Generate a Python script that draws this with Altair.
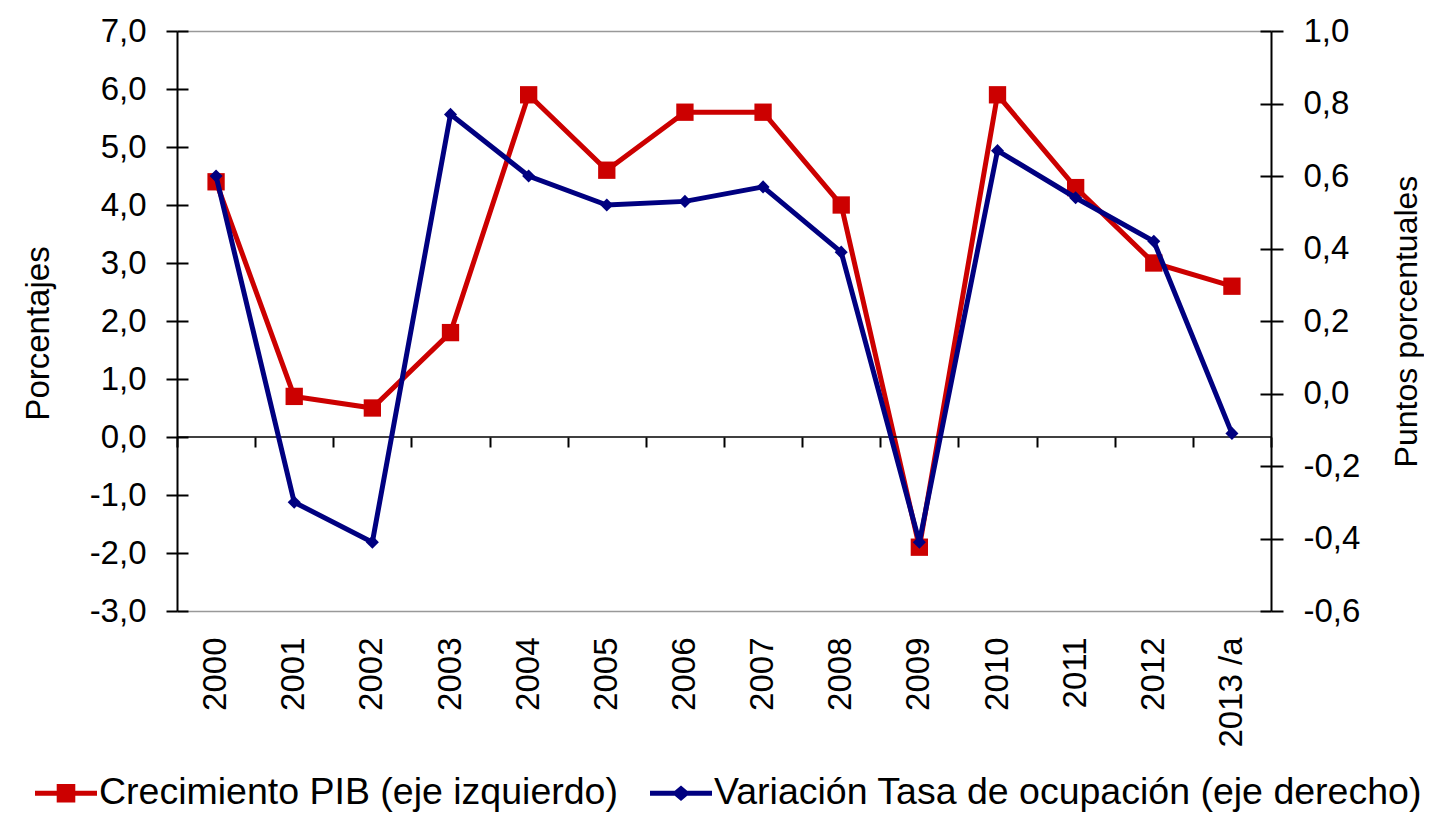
import altair as alt
import pandas as pd

years = ["2000", "2001", "2002", "2003", "2004", "2005", "2006", "2007",
         "2008", "2009", "2010", "2011", "2012", "2013 /a"]
pib = [4.4, 0.7, 0.5, 1.8, 5.9, 4.6, 5.6, 5.6, 4.0, -1.9, 5.9, 4.3, 3.0, 2.6]
ocup = [0.60, -0.30, -0.41, 0.77, 0.60, 0.52, 0.53, 0.57, 0.39, -0.41, 0.67, 0.54, 0.42, -0.11]
series = ["Crecimiento PIB (eje izquierdo)", "Variación Tasa de ocupación (eje derecho)"]
left_ticks = [-3, -2, -1, 0, 1, 2, 3, 4, 5, 6, 7]
right_ticks = [-0.6, -0.4, -0.2, 0.0, 0.2, 0.4, 0.6, 0.8, 1.0]

df = pd.DataFrame({"year": years, "pib": pib, "ocup": ocup})
long_df = pd.DataFrame({
    "year": years * 2,
    "serie": [series[0]] * len(years) + [series[1]] * len(years),
    "v": ocup + ocup,
})
zero_df = pd.DataFrame({"z": [0.0]})

W, H = 1094, 580
L_DOM = [-3, 7]
R_DOM = [-0.6, 1.0]
FONT = "Liberation Sans"
RED = "#CC0000"
BLUE = "#000080"
TICK_FS = 33

fmt = "replace(replace(format(datum.value, '.1f'), '.', ','), '\u2212', '-')"

x_scale = alt.Scale(type="band", paddingInner=0, paddingOuter=0, domain=years)
l_scale = alt.Scale(domain=L_DOM, nice=False, zero=False)
r_scale = alt.Scale(domain=R_DOM, nice=False, zero=False)


def xenc(axis):
    return alt.X("year:N", bandPosition=0.5, scale=x_scale, sort=years, title=None, axis=axis)


x_label_axis = alt.Axis(orient="bottom", labelAngle=270, labelFontSize=TICK_FS, labelFont=FONT,
                        labelColor="black", labelPadding=26, ticks=False, tickSize=0,
                        domain=True, domainColor="#999999", domainWidth=1.5, grid=False)
x_tick_axis = alt.Axis(orient="bottom", offset=-H * (0 - L_DOM[0]) / (L_DOM[1] - L_DOM[0]),
                       labels=False, domain=False, ticks=True, tickBand="extent",
                       tickSize=10, tickColor="black", tickWidth=2, grid=False)
x_top_axis = alt.Axis(orient="top", labels=False, ticks=False, domain=True,
                      domainColor="#999999", domainWidth=1.5, grid=False)

left_axis = alt.Axis(orient="left", values=left_ticks, labelExpr=fmt, labelFontSize=TICK_FS,
                     labelFont=FONT, labelColor="black", tickSize=11, labelPadding=20,
                     domainColor="black", domainWidth=2, tickColor="black", tickWidth=2,
                     grid=False, title="Porcentajes", titleFont=FONT, titleFontSize=33,
                     titleFontWeight="normal", titleColor="black", titlePadding=34,
                     titleY=302)
left_in_axis = alt.Axis(orient="left", values=left_ticks, offset=-11, labels=False, domain=False,
                        tickSize=11, tickColor="black", tickWidth=2, grid=False, title=None)
right_axis = alt.Axis(orient="right", values=right_ticks, labelExpr=fmt, labelFontSize=TICK_FS,
                      labelFont=FONT, labelColor="black", tickSize=12, labelPadding=20,
                      domainColor="black", domainWidth=2, tickColor="black", tickWidth=2,
                      grid=False, title="Puntos porcentuales", titleFont=FONT, titleFontSize=32,
                      titleFontWeight="normal", titleColor="black", titleAngle=270, titlePadding=64)
right_in_axis = alt.Axis(orient="right", values=right_ticks, offset=-11, labels=False, domain=False,
                         tickSize=11, tickColor="black", tickWidth=2, grid=False, title=None)

red_base = alt.Chart(df)
red = alt.layer(
    red_base.mark_line(color=RED, strokeWidth=5).encode(
        x=xenc(x_label_axis), y=alt.Y("pib:Q", scale=l_scale, axis=left_axis)),
    red_base.mark_point(shape="square", filled=True, size=300, color=RED, opacity=1).encode(
        x=xenc(x_label_axis), y=alt.Y("pib:Q", scale=l_scale, axis=left_axis)),
)

zero = alt.Chart(zero_df).mark_rule(color="black", strokeWidth=1.5).encode(
    y=alt.Y("z:Q", scale=l_scale, axis=left_in_axis))

blue_base = alt.Chart(df)
blue = alt.layer(
    blue_base.mark_line(color=BLUE, strokeWidth=5).encode(
        x=xenc(x_tick_axis), y=alt.Y("ocup:Q", scale=r_scale, axis=right_axis)),
    blue_base.mark_point(shape="diamond", filled=True, size=170, color=BLUE, opacity=1).encode(
        x=xenc(x_tick_axis), y=alt.Y("ocup:Q", scale=r_scale, axis=right_axis)),
)

sym_sq = "M-1,-0.08H-0.3V-0.3H0.3V-0.08H1V0.08H0.3V0.3H-0.3V0.08H-1Z"
sym_di = "M-1,-0.08H-0.2L0,-0.25L0.2,-0.08H1V0.08H0.2L0,0.25L-0.2,0.08H-1Z"
legend = alt.Legend(title=None, orient="none", legendX=-142, legendY=731, direction="horizontal",
                    labelFont=FONT, labelFontSize=37.5, labelColor="black", labelLimit=0,
                    symbolSize=3844, symbolOpacity=1, symbolStrokeWidth=0, labelOffset=2,
                    columnPadding=32)
leg = alt.Chart(long_df).mark_point(filled=True, opacity=0).encode(
    x=xenc(x_top_axis),
    y=alt.Y("v:Q", scale=r_scale, axis=right_in_axis),
    color=alt.Color("serie:N", scale=alt.Scale(domain=series, range=[RED, BLUE]), legend=legend),
    shape=alt.Shape("serie:N", scale=alt.Scale(domain=series, range=[sym_sq, sym_di]), legend=legend),
)

chart = alt.layer(red, zero, blue, leg).resolve_scale(y="independent").resolve_axis(
    x="independent", y="independent"
).properties(
    width=W, height=H,
    autosize=alt.AutoSizeParams(type="none"),
    padding={"left": 169, "top": 23, "right": 153, "bottom": 202},
).configure_view(stroke=None).configure(background="white")

chart.save("out.html", embed_options={"renderer": "svg", "actions": False})
